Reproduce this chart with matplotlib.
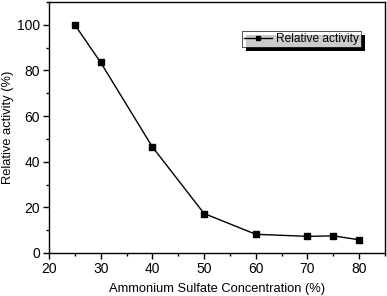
import matplotlib
matplotlib.use('Agg')
import matplotlib.pyplot as plt
import matplotlib.patheffects as pe
from matplotlib.ticker import MultipleLocator

plt.rcParams['font.family'] = ['Liberation Sans', 'DejaVu Sans']

concentration = [25, 30, 40, 50, 60, 70, 75, 80]
activity = [100, 83.5, 46.5, 17.3, 8.2, 7.3, 7.5, 5.8]

fig = plt.figure(figsize=(3.87, 2.96), dpi=100)
ax = fig.add_axes([49 / 387, 43 / 296, 336 / 387, 251 / 296])

ax.plot(concentration, activity, '-s', color='black', linewidth=1,
        markersize=5, label='Relative activity')

ax.set_xlim(20, 85)
ax.set_ylim(0, 110)
ax.xaxis.set_major_locator(MultipleLocator(10))
ax.xaxis.set_minor_locator(MultipleLocator(5))
ax.yaxis.set_major_locator(MultipleLocator(20))
ax.yaxis.set_minor_locator(MultipleLocator(10))
ax.tick_params(which='major', direction='out', length=4, width=1, labelsize=10, pad=2.5)
ax.tick_params(which='minor', direction='out', length=2.5, width=1)
for s in ax.spines.values():
    s.set_linewidth(1)

ax.set_xlabel('Ammonium Sulfate Concentration (%)', fontsize=9.3, labelpad=5)
ax.set_ylabel('Relative activity (%)', fontsize=9.3, labelpad=2)

leg = ax.legend(loc='upper left', bbox_to_anchor=(0.574, 0.884), fontsize=8.6,
                frameon=True, fancybox=False, shadow=False,
                borderpad=0.15, handlelength=2.4, handletextpad=0.3, borderaxespad=0,
                markerscale=0.7)
frame = leg.get_frame()
frame.set_edgecolor('black')
frame.set_linewidth(0.6)
frame.set_path_effects([pe.SimplePatchShadow(offset=(3, -3), shadow_rgbFace='black', alpha=1),
                        pe.Normal()])

fig.savefig('out.png', dpi=100)
